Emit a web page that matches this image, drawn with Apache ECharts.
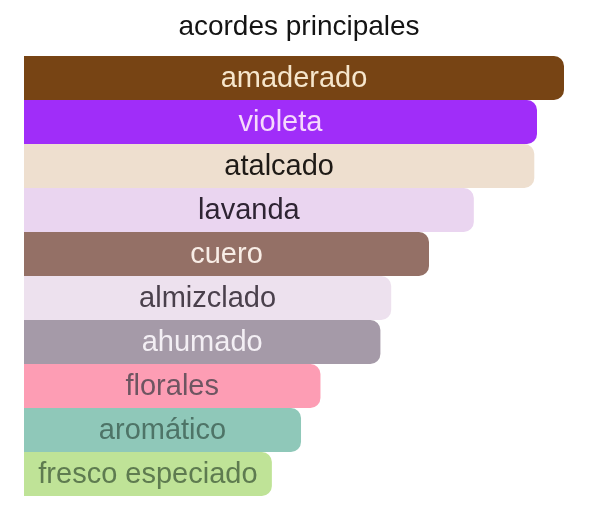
<!DOCTYPE html>
<html>
<head>
<meta charset="utf-8">
<script src="https://cdn.jsdelivr.net/npm/echarts@6/dist/echarts.min.js"></script>
<style>
  html, body { margin: 0; padding: 0; background: #fff; }
  #chart { width: 600px; height: 527px; }
</style>
</head>
<body>
<div id="chart"></div>
<script>
// accords, top to bottom
const categories = ['amaderado', 'violeta', 'atalcado', 'lavanda', 'cuero',
  'almizclado', 'ahumado', 'florales', 'aromático', 'fresco especiado']
const values = [100, 95, 94.5, 83.3, 75, 68, 66, 54.9, 51.3, 45.9]

const barColors = ['#774414', '#a02df9', '#eedfcf', '#ead5f0', '#947066',
  '#ede1ee', '#a59aa8', '#fd9db4', '#8fc8b9', '#bfe397']
const textColors = ['#f6e6cc', '#f5dafc', '#1e1a16', '#2e2433', '#f8ede6',
  '#4a404c', '#f3eff4', '#6e5561', '#4e7467', '#5e7b50']

const FONT = '"Liberation Sans", Arial, Helvetica, sans-serif'

var chart = echarts.init(document.getElementById('chart'))

chart.setOption({
  animation: false,
  title: {
    text: 'acordes principales',
    left: 294,
    textAlign: 'center',
    top: 8,
    textStyle: {
      fontFamily: FONT,
      fontSize: 28,
      fontWeight: 'normal',
      color: '#141414'
    }
  },
  grid: { left: 24, right: 36, top: 56, bottom: 31 },
  xAxis: {
    type: 'value',
    min: 0,
    max: 100,
    show: false
  },
  yAxis: {
    type: 'category',
    data: categories,
    inverse: true,
    show: false
  },
  series: [{
    type: 'bar',
    barCategoryGap: 0,
    data: values.map((v, i) => ({
      value: v,
      itemStyle: { color: barColors[i] },
      label: { color: textColors[i] }
    })),
    itemStyle: { borderRadius: [0, 10, 10, 0] },
    label: {
      show: true,
      position: 'inside',
      offset: [0, 1],
      formatter: p => categories[p.dataIndex],
      fontFamily: FONT,
      fontSize: 29
    }
  }]
})
</script>
</body>
</html>
